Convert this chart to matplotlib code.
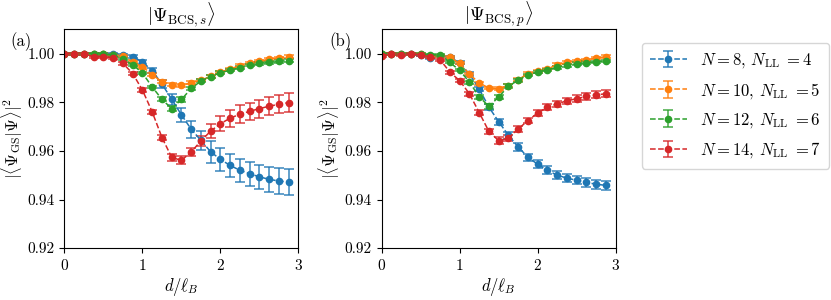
import matplotlib
matplotlib.use("Agg")
import matplotlib.pyplot as plt
import numpy as np

plt.rcParams.update({
    "font.family": "serif",
    "font.serif": ["cmr10"],
    "mathtext.fontset": "cm",
    "axes.formatter.use_mathtext": True,
    "font.size": 11,
})

d = [0.0, 0.125, 0.25, 0.375, 0.5, 0.625, 0.75, 0.875, 1.0, 1.125, 1.25, 1.375,
     1.5, 1.625, 1.75, 1.875, 2.0, 2.125, 2.25, 2.375, 2.5, 2.625, 2.75, 2.875]

N_vals = [8, 10, 12, 14]
NLL_vals = [4, 5, 6, 7]
colors = ["tab:blue", "tab:orange", "tab:green", "tab:red"]

# Panel (a): |Psi_BCS,s>
blue_a = [1.0, 1.0, 1.0, 1.0, 1.0, 1.0, 0.9995, 0.9988, 0.9966, 0.9930, 0.9875, 0.9812,
          0.9748, 0.9689, 0.9643, 0.9596, 0.9565, 0.9540, 0.9520, 0.9506, 0.9493, 0.9483, 0.9476, 0.9472]
blue_a_err = [0.0004, 0.0004, 0.0004, 0.0004, 0.0004, 0.0004, 0.0004, 0.0005, 0.0007, 0.0010, 0.0015, 0.0022,
              0.0030, 0.0036, 0.0038, 0.0045, 0.0046, 0.0047, 0.0048, 0.0050, 0.0051, 0.0052, 0.0053, 0.0055]
orange_a = [1.0, 1.0, 1.0, 0.9998, 0.9998, 0.9996, 0.9990, 0.9966, 0.9946, 0.9914, 0.9884, 0.9873,
            0.9870, 0.9880, 0.9891, 0.9907, 0.9924, 0.9937, 0.9951, 0.9962, 0.9970, 0.9977, 0.9983, 0.9988]
orange_a_err = [0.0004] * 9 + [0.0005, 0.0006, 0.0006, 0.0006, 0.0006, 0.0005, 0.0005, 0.0005, 0.0005,
                               0.0005, 0.0005, 0.0005, 0.0005, 0.0005, 0.0005]
green_a = [1.0, 1.0, 1.0, 1.0, 0.9998, 0.9995, 0.9977, 0.9955, 0.9920, 0.9863, 0.9812, 0.9774,
           0.9812, 0.9857, 0.9888, 0.9906, 0.9922, 0.9932, 0.9943, 0.9953, 0.9960, 0.9964, 0.9968, 0.9972]
green_a_err = [0.0004] * 9 + [0.0006, 0.0008, 0.0010, 0.0009, 0.0008, 0.0006, 0.0005, 0.0005, 0.0005,
                              0.0005, 0.0005, 0.0005, 0.0005, 0.0005, 0.0005]
red_a = [1.0, 1.0, 1.0, 0.9987, 0.9988, 0.9983, 0.9960, 0.9918, 0.9850, 0.9760, 0.9655, 0.9573,
         0.9561, 0.9596, 0.9641, 0.9682, 0.9712, 0.9735, 0.9751, 0.9763, 0.9774, 0.9784, 0.9792, 0.9799]
red_a_err = [0.0004, 0.0004, 0.0004, 0.0004, 0.0004, 0.0004, 0.0005, 0.0006, 0.0008, 0.0010, 0.0012, 0.0014,
             0.0016, 0.0017, 0.0020, 0.0027, 0.0032, 0.0035, 0.0036, 0.0036, 0.0037, 0.0037, 0.0038, 0.0038]

# Panel (b): |Psi_BCS,p>
blue_b = [1.0, 1.0, 1.0, 0.9998, 0.9996, 0.9982, 0.9992, 0.9986, 0.9962, 0.9916, 0.9855, 0.9780,
          0.9720, 0.9664, 0.9616, 0.9574, 0.9545, 0.9520, 0.9500, 0.9488, 0.9479, 0.9470, 0.9463, 0.9458]
blue_b_err = [0.0004] * 8 + [0.0006, 0.0008, 0.0010, 0.0012, 0.0013, 0.0014, 0.0015, 0.0015, 0.0016, 0.0016,
                             0.0017, 0.0017, 0.0017, 0.0018, 0.0018, 0.0018]
orange_b = [1.0, 1.0, 1.0, 1.0, 0.9998, 0.9985, 0.9992, 0.9986, 0.9960, 0.9916, 0.9879, 0.9859,
            0.9855, 0.9868, 0.9893, 0.9918, 0.9927, 0.9937, 0.9955, 0.9964, 0.9971, 0.9975, 0.9982, 0.9988]
orange_b_err = [0.0004] * 9 + [0.0005, 0.0006, 0.0006, 0.0006, 0.0006, 0.0005, 0.0005, 0.0005, 0.0005,
                               0.0005, 0.0005, 0.0005, 0.0005, 0.0005, 0.0005]
green_b = [1.0, 1.0, 1.0, 1.0, 0.9998, 0.9996, 0.9996, 0.9964, 0.9931, 0.9883, 0.9823, 0.9783,
           0.9822, 0.9866, 0.9891, 0.9913, 0.9924, 0.9934, 0.9944, 0.9952, 0.9959, 0.9963, 0.9967, 0.9971]
green_b_err = [0.0004] * 9 + [0.0006, 0.0008, 0.0010, 0.0009, 0.0008, 0.0006, 0.0005, 0.0005, 0.0005,
                              0.0005, 0.0005, 0.0005, 0.0005, 0.0005, 0.0005]
red_b = [0.9992, 1.0, 0.9996, 1.0, 0.9996, 0.9986, 0.9975, 0.9924, 0.9889, 0.9835, 0.9758, 0.9680,
         0.9642, 0.9653, 0.9690, 0.9725, 0.9756, 0.9779, 0.9794, 0.9806, 0.9815, 0.9824, 0.9831, 0.9835]
red_b_err = [0.0004] * 7 + [0.0006, 0.0007, 0.0008, 0.0010, 0.0012, 0.0015, 0.0013, 0.0012, 0.0012, 0.0012,
                            0.0012, 0.0013, 0.0013, 0.0013, 0.0013, 0.0014, 0.0014]

panels = [
    ([blue_a, orange_a, green_a, red_a], [blue_a_err, orange_a_err, green_a_err, red_a_err],
     r"$|\Psi_{\mathrm{BCS},s}\rangle$", "(a)"),
    ([blue_b, orange_b, green_b, red_b], [blue_b_err, orange_b_err, green_b_err, red_b_err],
     r"$|\Psi_{\mathrm{BCS},p}\rangle$", "(b)"),
]

fig = plt.figure(figsize=(8.31, 3.0), dpi=100)
ax_a = fig.add_axes([0.0776, 0.173, 0.2816, 0.729])
ax_b = fig.add_axes([0.4593, 0.173, 0.2816, 0.729])
axes = [ax_a, ax_b]
label_x = [0.013, 0.396]

handles = []
for k, (ax, (ys, errs, title, lab)) in enumerate(zip(axes, panels)):
    for i, (y, e) in enumerate(zip(ys, errs)):
        h = ax.errorbar(d, y, yerr=e, color=colors[i], ecolor=matplotlib.colors.to_rgba(colors[i], 0.75),
                        linestyle="--", linewidth=1.1, marker="o", markersize=4.5,
                        capsize=3.5, elinewidth=1.3, capthick=1.3,
                        label=rf"$N={N_vals[i]}$, $N_{{\rm LL}}\;{{=}}$" + f"{NLL_vals[i]}")
        if k == 0:
            handles.append(h)
    ax.set_xlim(0, 3)
    ax.set_ylim(0.92, 1.01)
    ax.set_xticks([0, 1, 2, 3])
    ax.set_yticks([0.92, 0.94, 0.96, 0.98, 1.00])
    ax.set_yticklabels(["0.92", "0.94", "0.96", "0.98", "1.00"])
    ax.set_title(title, fontsize=13.5, pad=4)
    ax.set_xlabel(r"$d/\ell_B$", fontsize=12, labelpad=2)
    ax.set_ylabel(r"$|\langle\Psi_{\rm GS}|\Psi\rangle|^2$", fontsize=12, labelpad=2)
    fig.text(label_x[k], 0.862, lab, fontsize=12, va="center", ha="left")

fig.legend(handles=handles, loc="upper left", bbox_to_anchor=(0.762, 0.884),
           fontsize=12, frameon=True, handlelength=2.2, borderpad=0.5, labelspacing=0.62)

fig.savefig("out.png", dpi=100)
